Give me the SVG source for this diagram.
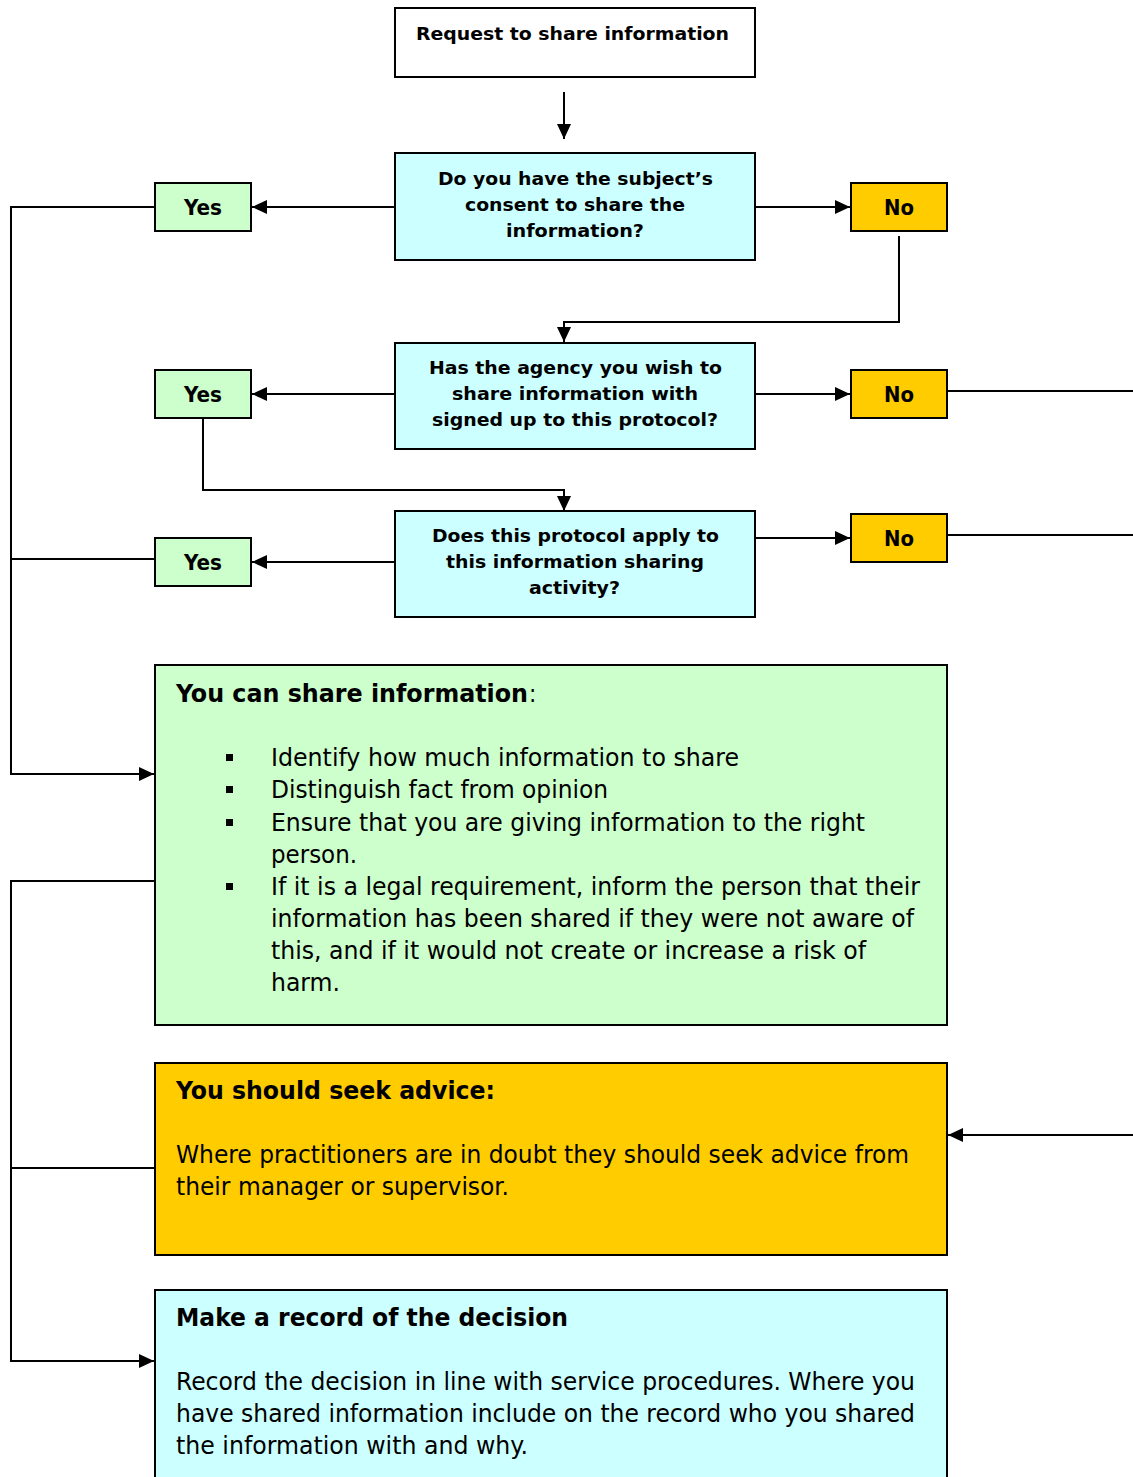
<svg xmlns="http://www.w3.org/2000/svg" width="1133" height="1477" viewBox="0 0 1133 1477">
<style>
.box{stroke:#000;stroke-width:2}
.w{fill:#fff}.c{fill:#CCFFFF}.g{fill:#CCFFCC}.o{fill:#FFCC00}
.b{font-family:"DejaVu Sans Condensed","DejaVu Sans",sans-serif;font-weight:bold;fill:#000}
.bq{font-family:"DejaVu Sans",sans-serif;font-weight:bold;fill:#000}
.r{font-family:"DejaVu Sans Condensed","DejaVu Sans",sans-serif;fill:#000}
.q{font-size:17.5px;text-anchor:middle}
.yn{font-size:21px;text-anchor:middle}
.t{font-size:24px}
.p{font-size:24px}
.conn{fill:none;stroke:#000;stroke-width:2}
</style>
<defs>
<marker id="ah" markerUnits="userSpaceOnUse" markerWidth="16" markerHeight="14" refX="15" refY="7" orient="auto">
<path d="M0,0 L15,7 L0,14 Z" fill="#000"/>
</marker>
</defs>
<g id="connectors">
<path class="conn" d="M564,92 V139" marker-end="url(#ah)"/>
<path class="conn" d="M395,207 H252" marker-end="url(#ah)"/>
<path class="conn" d="M755,207 H850" marker-end="url(#ah)"/>
<path class="conn" d="M899,236 V322 H564 V342" marker-end="url(#ah)"/>
<path class="conn" d="M395,394 H252" marker-end="url(#ah)"/>
<path class="conn" d="M755,394 H850" marker-end="url(#ah)"/>
<path class="conn" d="M203,418 V490 H564 V511" marker-end="url(#ah)"/>
<path class="conn" d="M395,562 H252" marker-end="url(#ah)"/>
<path class="conn" d="M755,538 H850" marker-end="url(#ah)"/>
<path class="conn" d="M155,207 H11 V774 H154" marker-end="url(#ah)"/>
<path class="conn" d="M155,559 H11"/>
<path class="conn" d="M155,881 H11 V1361 H154" marker-end="url(#ah)"/>
<path class="conn" d="M155,1168 H11"/>
<path class="conn" d="M947,391 H1133"/>
<path class="conn" d="M947,535 H1133"/>
<path class="conn" d="M1133,1135 H948" marker-end="url(#ah)"/>
</g>
<g id="request">
<rect class="box w" x="395" y="8" width="360" height="69"/>
<text class="bq" x="416" y="40" font-size="18.5" textLength="313" lengthAdjust="spacingAndGlyphs">Request to share information</text>
</g>
<g id="q1">
<rect class="box c" x="395" y="153" width="360" height="107"/>
<text class="bq q" x="575.5" y="185" textLength="275" lengthAdjust="spacingAndGlyphs">Do you have the subject’s</text>
<text class="bq q" x="575" y="211" textLength="220" lengthAdjust="spacingAndGlyphs">consent to share the</text>
<text class="bq q" x="575" y="237" textLength="138" lengthAdjust="spacingAndGlyphs">information?</text>
</g>
<g id="yes1">
<rect class="box g" x="155" y="183" width="96" height="48"/>
<text class="b yn" x="203" y="215" textLength="38" lengthAdjust="spacingAndGlyphs">Yes</text>
</g>
<g id="no1">
<rect class="box o" x="851" y="183" width="96" height="48"/>
<text class="b yn" x="899" y="215" textLength="30" lengthAdjust="spacingAndGlyphs">No</text>
</g>
<g id="q2">
<rect class="box c" x="395" y="343" width="360" height="106"/>
<text class="bq q" x="575.5" y="374" textLength="293" lengthAdjust="spacingAndGlyphs">Has the agency you wish to</text>
<text class="bq q" x="575" y="400" textLength="246" lengthAdjust="spacingAndGlyphs">share information with</text>
<text class="bq q" x="575" y="426" textLength="286" lengthAdjust="spacingAndGlyphs">signed up to this protocol?</text>
</g>
<g id="yes2">
<rect class="box g" x="155" y="370" width="96" height="48"/>
<text class="b yn" x="203" y="402" textLength="38" lengthAdjust="spacingAndGlyphs">Yes</text>
</g>
<g id="no2">
<rect class="box o" x="851" y="370" width="96" height="48"/>
<text class="b yn" x="899" y="402" textLength="30" lengthAdjust="spacingAndGlyphs">No</text>
</g>
<g id="q3">
<rect class="box c" x="395" y="511" width="360" height="106"/>
<text class="bq q" x="575.5" y="542" textLength="287" lengthAdjust="spacingAndGlyphs">Does this protocol apply to</text>
<text class="bq q" x="575" y="568" textLength="258" lengthAdjust="spacingAndGlyphs">this information sharing</text>
<text class="bq q" x="574.5" y="594" textLength="91" lengthAdjust="spacingAndGlyphs">activity?</text>
</g>
<g id="yes3">
<rect class="box g" x="155" y="538" width="96" height="48"/>
<text class="b yn" x="203" y="570" textLength="38" lengthAdjust="spacingAndGlyphs">Yes</text>
</g>
<g id="no3">
<rect class="box o" x="851" y="514" width="96" height="48"/>
<text class="b yn" x="899" y="546" textLength="30" lengthAdjust="spacingAndGlyphs">No</text>
</g>
<g id="share">
<rect class="box g" x="155" y="665" width="792" height="360"/>
<text class="b t" x="176" y="702" textLength="352" lengthAdjust="spacingAndGlyphs">You can share information</text>
<text class="r p" x="529" y="702">:</text>
<rect x="226" y="754" width="7" height="7" fill="#000"/>
<rect x="226" y="786" width="7" height="7" fill="#000"/>
<rect x="226" y="819" width="7" height="7" fill="#000"/>
<rect x="226" y="883" width="7" height="7" fill="#000"/>
<text class="r p" x="271" y="766" textLength="468" lengthAdjust="spacingAndGlyphs">Identify how much information to share</text>
<text class="r p" x="271" y="798" textLength="337" lengthAdjust="spacingAndGlyphs">Distinguish fact from opinion</text>
<text class="r p" x="271" y="831" textLength="594" lengthAdjust="spacingAndGlyphs">Ensure that you are giving information to the right</text>
<text class="r p" x="271" y="863" textLength="86" lengthAdjust="spacingAndGlyphs">person.</text>
<text class="r p" x="271" y="895" textLength="649" lengthAdjust="spacingAndGlyphs">If it is a legal requirement, inform the person that their</text>
<text class="r p" x="271" y="927" textLength="643" lengthAdjust="spacingAndGlyphs">information has been shared if they were not aware of</text>
<text class="r p" x="271" y="959" textLength="595" lengthAdjust="spacingAndGlyphs">this, and if it would not create or increase a risk of</text>
<text class="r p" x="271" y="991" textLength="69" lengthAdjust="spacingAndGlyphs">harm.</text>
</g>
<g id="advice">
<rect class="box o" x="155" y="1063" width="792" height="192"/>
<text class="b t" x="176" y="1099" textLength="319" lengthAdjust="spacingAndGlyphs">You should seek advice:</text>
<text class="r p" x="176" y="1163" textLength="733" lengthAdjust="spacingAndGlyphs">Where practitioners are in doubt they should seek advice from</text>
<text class="r p" x="176" y="1195" textLength="333" lengthAdjust="spacingAndGlyphs">their manager or supervisor.</text>
</g>
<g id="record">
<rect class="box c" x="155" y="1290" width="792" height="200"/>
<text class="b t" x="176" y="1326" textLength="392" lengthAdjust="spacingAndGlyphs">Make a record of the decision</text>
<text class="r p" x="176" y="1390" textLength="739" lengthAdjust="spacingAndGlyphs">Record the decision in line with service procedures. Where you</text>
<text class="r p" x="176" y="1422" textLength="739" lengthAdjust="spacingAndGlyphs">have shared information include on the record who you shared</text>
<text class="r p" x="176" y="1454" textLength="352" lengthAdjust="spacingAndGlyphs">the information with and why.</text>
</g>
</svg>
